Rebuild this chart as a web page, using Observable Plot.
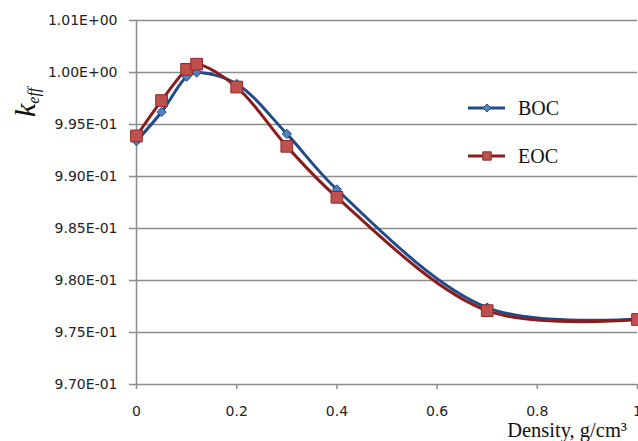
<!DOCTYPE html>
<html>
<head>
<meta charset="utf-8">
<script src="https://cdn.jsdelivr.net/npm/d3@7"></script>
<script src="https://cdn.jsdelivr.net/npm/@observablehq/plot@0.6"></script>
<style>
  html, body { margin: 0; padding: 0; background: #fff; }
  #chart { width: 638px; height: 441px; overflow: hidden; }
</style>
</head>
<body>
<div id="chart"></div>
<script>
// ---- data ----
const density = [0, 0.05, 0.1, 0.12, 0.2, 0.3, 0.4, 0.7, 1.0];
const boc = [0.9934, 0.9962, 0.9996, 1.0000, 0.9989, 0.9941, 0.98875, 0.9774, 0.9763];
const eoc = [0.9939, 0.9973, 1.0003, 1.0008, 0.9986, 0.9929, 0.9880, 0.9771, 0.97625];
const seriesNames = ["BOC", "EOC"];
const xTicks = [0, 0.2, 0.4, 0.6, 0.8, 1];
const xTickLabels = ["0", "0.2", "0.4", "0.6", "0.8", "1"];
const yTicks = [0.970, 0.975, 0.980, 0.985, 0.990, 0.995, 1.000, 1.005];
const yTickLabels = ["9.70E-01", "9.75E-01", "9.80E-01", "9.85E-01", "9.90E-01", "9.95E-01", "1.00E+00", "1.01E+00"];
const xLabel = "Density, g/cm³";

const bocData = density.map((d, i) => ({x: d, y: boc[i]}));
const eocData = density.map((d, i) => ({x: d, y: eoc[i]}));

const BOC_LINE = "#1f4a8c", BOC_FILL = "#4f81bd";
const EOC_LINE = "#8b1c1c", EOC_FILL = "#c0504d", EOC_EDGE = "#8c2a2a";
const GRID = "#8c8c8c";

const plot = Plot.plot({
  width: 638,
  height: 441,
  marginTop: 20,
  marginRight: 1,
  marginBottom: 57,
  marginLeft: 136,
  style: {fontFamily: "'DejaVu Sans', Verdana, sans-serif", fontSize: "14px", color: "#222", background: "#fff"},
  x: {domain: [0, 1]},
  y: {domain: [0.97, 1.005]},
  marks: [
    Plot.gridY(yTicks, {stroke: GRID, strokeOpacity: 1, strokeWidth: 1.5}),
    Plot.ruleX([0], {y1: 0.97, y2: 1.005, stroke: GRID, strokeWidth: 1.5}),
    Plot.axisY(yTicks, {tickSize: 7, tickPadding: 12, stroke: GRID, strokeWidth: 1.5,
      tickFormat: (d) => yTickLabels[yTicks.indexOf(d)], label: null}),
    Plot.axisX(xTicks, {tickSize: 5, tickPadding: 17, stroke: GRID, strokeWidth: 1.5,
      tickFormat: (d) => xTickLabels[xTicks.indexOf(d)], label: null}),
    Plot.line(bocData, {x: "x", y: "y", stroke: BOC_LINE, strokeWidth: 3, curve: "catmull-rom"}),
    Plot.dot(bocData, {x: "x", y: "y", symbol: "diamond2", r: 4.2, fill: BOC_FILL, stroke: BOC_LINE, strokeWidth: 1}),
    Plot.line(eocData, {x: "x", y: "y", stroke: EOC_LINE, strokeWidth: 3, curve: "catmull-rom"}),
    Plot.dot(eocData, {x: "x", y: "y", symbol: "square", r: 6.6, fill: EOC_FILL, stroke: EOC_EDGE, strokeWidth: 1})
  ]
});

document.getElementById("chart").appendChild(plot);

// ---- legend, axis titles ----
const svg = d3.select(plot);
const SERIF = "'Liberation Serif', 'Times New Roman', serif";
const legend = [
  {name: seriesNames[0], line: BOC_LINE, fill: BOC_FILL, edge: BOC_LINE, sym: d3.symbolDiamond2, size: 40, y: 108},
  {name: seriesNames[1], line: EOC_LINE, fill: EOC_FILL, edge: EOC_EDGE, sym: d3.symbolSquare, size: 70, y: 156}
];
const lg = svg.append("g");
legend.forEach(l => {
  lg.append("line").attr("x1", 468).attr("x2", 505).attr("y1", l.y).attr("y2", l.y)
    .attr("stroke", l.line).attr("stroke-width", 3);
  lg.append("path").attr("d", d3.symbol(l.sym, l.size)()).attr("transform", `translate(487,${l.y})`)
    .attr("fill", l.fill).attr("stroke", l.edge).attr("stroke-width", 1);
  lg.append("text").attr("x", 518).attr("y", l.y).attr("dy", "0.34em").attr("text-anchor", "start")
    .attr("font-family", SERIF).attr("font-size", 20)
    .attr("fill", "#111").text(l.name);
});

svg.append("text").attr("x", 627).attr("y", 437).attr("text-anchor", "end")
  .attr("font-family", SERIF).attr("font-size", 20.5)
  .attr("fill", "#111").text(xLabel);

const kl = svg.append("text").attr("transform", "translate(35,117) rotate(-90)")
  .attr("text-anchor", "start")
  .attr("font-family", SERIF).attr("font-style", "italic")
  .attr("fill", "#111");
kl.append("tspan").attr("font-size", 30).text("k");
kl.append("tspan").attr("font-size", 16).attr("dy", 4).text("eff");
</script>
</body>
</html>
